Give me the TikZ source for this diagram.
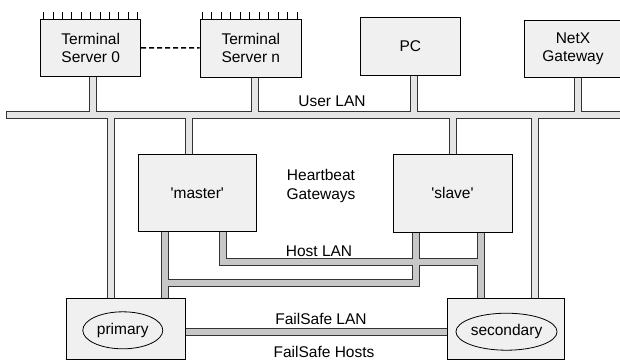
\documentclass[tikz,border=0pt]{standalone}
\usepackage{fontspec}
\setmainfont{Liberation Sans}[Ligatures=TeXOff]
\usetikzlibrary{shapes}
\usetikzlibrary{backgrounds}

\begin{document}
\begin{tikzpicture}[x=1pt,y=-1pt,font=\fontsize{15.5}{18.6}\selectfont]
\tikzstyle{lan}=[line width=1pt,draw=black!80,double distance=6pt,line cap=rect]
\tikzset{machine/.style={draw,line width=0.8pt,fill=black!6,align=center,inner sep=0pt},
hote/.style={draw,ellipse,line width=0.8pt,inner sep=0pt,minimum height=37pt}}
\useasboundingbox (0,0) rectangle (620,360);
\coordinate (ulanW) at (9.5,114.5);
\coordinate (ulanE) at (630,114.5);
\coordinate (hlan) at (0,262);
\coordinate (hlow) at (0,283);
% machines
\node [machine,minimum width=100pt,minimum height=57.7pt] (ts0) at (90.7,47.8) {Terminal\\Server 0};
\node [machine,minimum width=101.7pt,minimum height=58pt] (tsn) at (250.8,48) {Terminal\\Server n};
\node [machine,minimum width=100.7pt,minimum height=58pt] (pc) at (410.3,46) {PC};
\node [machine,minimum width=98pt,minimum height=56.3pt] (netx) at (573,48.8) {NetX\\Gateway};
\node [machine,minimum width=118.7pt,minimum height=77.7pt] (master) at (197.3,192.8) {'master'};
\node [machine,minimum width=119pt,minimum height=78pt] (slave) at (452.5,193) {'slave'};
\node [machine,minimum width=118.3pt,minimum height=61pt] (primary) at (125.8,328.5) {};
\node [machine,minimum width=117pt,minimum height=61pt] (secondary) at (505.5,328.5) {};
\node [hote,minimum width=80pt] (primaryhost) at (122.8,330.3) {primary};
\node [hote,minimum width=95pt] (secondaryhost) at (506.5,331.7) {secondary};
\foreach \i in {0,...,10} {
  \draw [line width=0.8pt] ([xshift=3.3pt+\i*9.4pt]ts0.north west) -- ++(0,-7);
  \draw [line width=0.8pt] ([xshift=2.7pt+\i*9.5pt]tsn.north west) -- ++(0,-7);
}
\draw [line width=1.5pt,dash pattern=on 5pt off 3pt] (ts0) -- (tsn);
% networks
\begin{scope}[on background layer]
\draw [lan,double=black!10] (ulanW) -- (ulanE)
  ([xshift=2.6pt]ts0.south) -- ([xshift=2.6pt]ts0.south |- ulanW)
  ([xshift=3.7pt]tsn.south) -- ([xshift=3.7pt]tsn.south |- ulanW)
  ([xshift=3.7pt]pc.south) -- ([xshift=3.7pt]pc.south |- ulanW)
  ([xshift=5pt]netx.south) -- ([xshift=5pt]netx.south |- ulanW)
  ([xshift=-8.8pt]master.north) -- ([xshift=-8.8pt]master.north |- ulanW)
  ([xshift=0.5pt]slave.north) -- ([xshift=0.5pt]slave.north |- ulanW)
  ([xshift=-14.8pt]primary.north) -- ([xshift=-14.8pt]primary.north |- ulanW)
  ([xshift=29pt]secondary.north) -- ([xshift=29pt]secondary.north |- ulanW);
\draw [lan,double=black!22] ([xshift=-32.3pt]master.south) -- ([xshift=-32.3pt]master.south |- primary.north)
  ([xshift=-32.3pt]master.south |- hlow) -| ([xshift=-36.5pt]slave.south)
  ([xshift=25.2pt]master.south) |- ([xshift=28.5pt]slave.south |- hlan)
  ([xshift=28.5pt]slave.south) -- ([xshift=28.5pt]slave.south |- secondary.north);
\draw [lan,double=black!22] ([yshift=-3.2pt]primary.east) -- ([yshift=-3.2pt]secondary.west);
\end{scope}
% labels
\node (userlan) at (332,101) {User LAN};
\node [align=center] (heartbeat) at (321,186) {Heartbeat\\Gateways};
\node (hostlan) at (319,251) {Host LAN};
\node (failsafelan) at (321,318.5) {FailSafe LAN};
\node (failsafehosts) at (324,352) {FailSafe Hosts};
\end{tikzpicture}
\end{document}
